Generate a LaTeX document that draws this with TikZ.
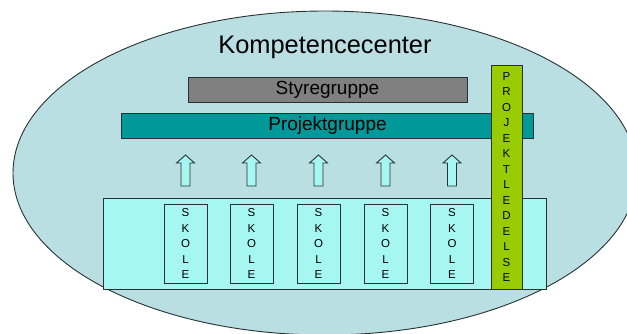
\documentclass[tikz,border=0pt]{standalone}
\usepackage{fontspec}
\setmainfont{Liberation Sans}
\definecolor{ellfill}{RGB}{185,223,227}
\definecolor{boxfill}{RGB}{166,246,242}
\definecolor{styrefill}{RGB}{128,128,128}
\definecolor{projfill}{RGB}{0,153,153}
\definecolor{ledfill}{RGB}{153,204,0}
\definecolor{edge}{RGB}{40,50,50}
\tikzset{
  outline/.style={draw=edge, line width=0.9pt},
  bar/.style={outline, rectangle, inner sep=0pt, font=\fontsize{19}{19}\selectfont},
  skolebox/.style={outline, rectangle, inner sep=0pt, minimum width=43pt, minimum height=79pt,
    align=center, font=\fontsize{11.5}{15.5}\selectfont},
  uparrow/.style={outline, fill=boxfill, line join=miter},
}
\begin{document}
\begin{tikzpicture}[x=1pt, y=-1pt]
\useasboundingbox (0,0) rectangle (627,333);
\clip (0,0) rectangle (627,333);
% outer ellipse
\draw[outline, fill=ellfill] (325,173) ellipse [x radius=312pt, y radius=162pt];
\node[anchor=base, font=\fontsize{25.4}{26}\selectfont] (title) at (325,53) {Kompetencecenter};
% bars
\node[bar, fill=styrefill, minimum width=279pt, minimum height=25pt] (styre) at (327.5,89.5) {Styregruppe};
\node[bar, fill=projfill, minimum width=412pt, minimum height=25pt] (projekt) at (327.5,125.5) {Projektgruppe};
% school container
\node[outline, fill=boxfill, rectangle, inner sep=0pt, minimum width=443pt, minimum height=91pt] (skoler) at (324.5,243.5) {};
% schools and arrows
\foreach \i/\x in {1/185.5, 2/251.5, 3/318.5, 4/385.5, 5/452}{
  \node[skolebox] (skole\i) at (\x,243.5) {S\\K\\O\\L\\E};
  \draw[uparrow] (\x-4.5,186) -- (\x-4.5,163) -- (\x-9,163) -- (\x,155)
     -- (\x+9,163) -- (\x+4.5,163) -- (\x+4.5,186) -- cycle;
}
% project management column
\node[outline, fill=ledfill, rectangle, inner sep=0pt, minimum width=31pt, minimum height=224pt,
  align=center, font=\fontsize{11.5}{15.5}\selectfont] (ledelse) at (506.5,177)
  {P\\R\\O\\J\\E\\K\\T\\L\\E\\D\\E\\L\\S\\E};
\end{tikzpicture}
\end{document}
